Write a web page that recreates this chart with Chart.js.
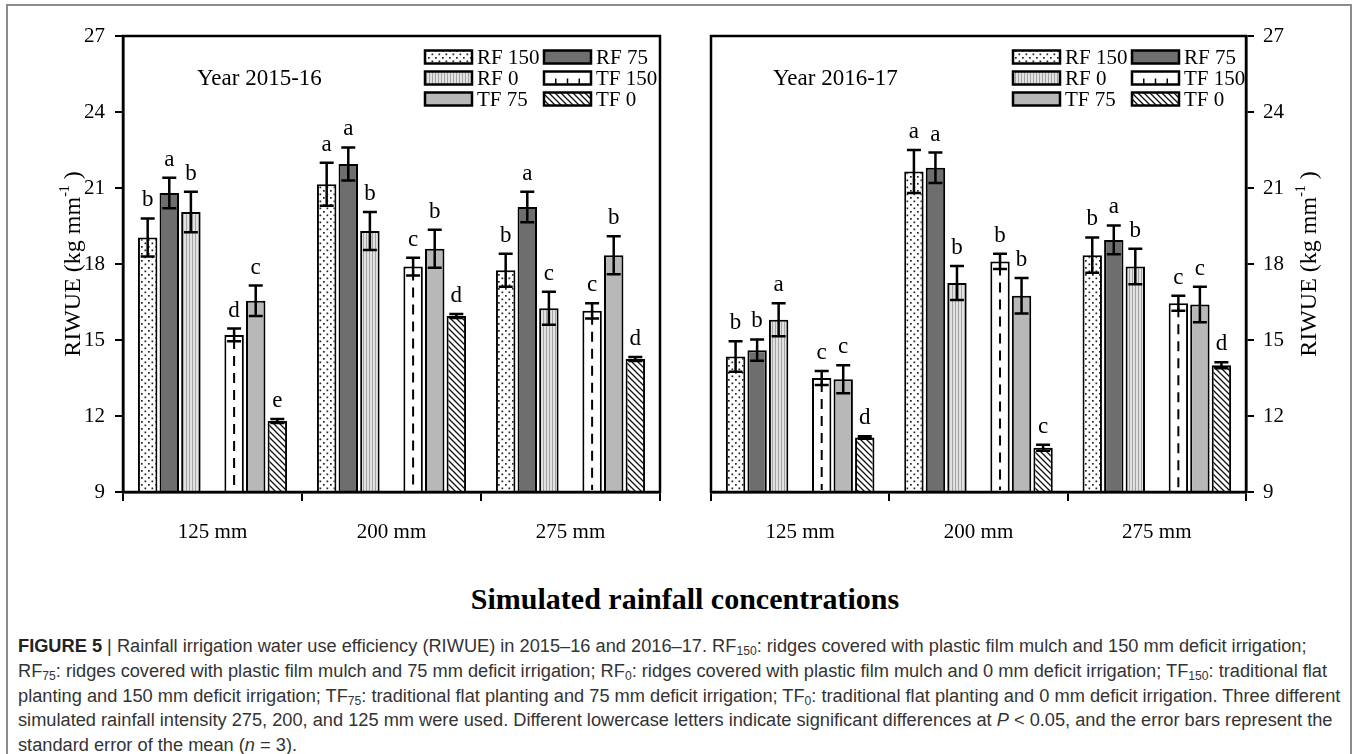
<!DOCTYPE html>
<html>
<head>
<meta charset="utf-8">
<script src="https://cdn.jsdelivr.net/npm/chart.js@4.4.1/dist/chart.umd.min.js"></script>
<style>
  html, body { margin: 0; padding: 0; background: #fff; }
  #fig { position: relative; width: 1357px; height: 754px; overflow: hidden; }
  #frame { position: absolute; left: 6px; top: 4px; width: 1342px; height: 770px;
           border-left: 2px solid #8c8c8c; border-top: 2px solid #8c8c8c; border-right: 2px solid #8c8c8c; }
  #c1 { position: absolute; left: 0; top: 0; }
  #c2 { position: absolute; left: 685px; top: 0; }
  #xtitle { position: absolute; left: 0; top: 582px; width: 1370px; text-align: center;
            font: bold 30px "Liberation Serif", "Times New Roman", serif; color: #000; }
  #caption { position: absolute; left: 18px; top: 634px; transform-origin: 0 0;
             font-family: "Liberation Sans Narrow", "Arial Narrow", "Liberation Sans", sans-serif;
             font-size: 18px; color: #333; white-space: nowrap; }
  #caption div { height: 24.8px; line-height: 24.8px; }
  #caption sub { font-size: 12px; vertical-align: -3px; line-height: 0; }
  #caption b { color: #222; }
</style>
</head>
<body>
<div id="fig">
  <div id="frame"></div>
  <canvas id="c1" width="685" height="560"></canvas>
  <canvas id="c2" width="672" height="560"></canvas>
  <div id="xtitle">Simulated rainfall concentrations</div>
  <div id="caption">
    <div><b>FIGURE 5</b> | Rainfall irrigation water use efficiency (RIWUE) in 2015–16 and 2016–17. RF<sub>150</sub>: ridges covered with plastic film mulch and 150 mm deficit irrigation;</div>
    <div>RF<sub>75</sub>: ridges covered with plastic film mulch and 75 mm deficit irrigation; RF<sub>0</sub>: ridges covered with plastic film mulch and 0 mm deficit irrigation; TF<sub>150</sub>: traditional flat</div>
    <div id="widest">planting and 150 mm deficit irrigation; TF<sub>75</sub>: traditional flat planting and 75 mm deficit irrigation; TF<sub>0</sub>: traditional flat planting and 0 mm deficit irrigation. Three different</div>
    <div>simulated rainfall intensity 275, 200, and 125 mm were used. Different lowercase letters indicate significant differences at <i>P</i> &lt; 0.05, and the error bars represent the</div>
    <div>standard error of the mean (<i>n</i> = 3).</div>
  </div>
</div>
<script>
// -------- Data --------
const groups = ['125 mm', '200 mm', '275 mm'];
const seriesNames = ['RF 150', 'RF 75', 'RF 0', 'TF 150', 'TF 75', 'TF 0'];
const yTicks = [9, 12, 15, 18, 21, 24, 27];

// Year 2015-16 (one value per group: 125, 200, 275 mm)
const rf150_a = [19.05, 21.15, 17.75];
const rf75_a  = [20.8, 21.95, 20.25];
const rf0_a   = [20.05, 19.3, 16.25];
const tf150_a = [15.2, 17.9, 16.15];
const tf75_a  = [16.55, 18.6, 18.35];
const tf0_a   = [11.8, 15.95, 14.25];

const rf150_a_se = [0.75, 0.85, 0.65];
const rf75_a_se  = [0.6, 0.65, 0.6];
const rf0_a_se   = [0.8, 0.75, 0.65];
const tf150_a_se = [0.25, 0.35, 0.3];
const tf75_a_se  = [0.6, 0.75, 0.75];
const tf0_a_se   = [0.08, 0.08, 0.08];

const rf150_a_let = ['b', 'a', 'b'];
const rf75_a_let  = ['a', 'a', 'a'];
const rf0_a_let   = ['b', 'b', 'c'];
const tf150_a_let = ['d', 'c', 'c'];
const tf75_a_let  = ['c', 'b', 'b'];
const tf0_a_let   = ['e', 'd', 'd'];

// Year 2016-17
const rf150_b = [14.35, 21.65, 18.35];
const rf75_b  = [14.6, 21.8, 18.95];
const rf0_b   = [15.8, 17.25, 17.9];
const tf150_b = [13.5, 18.1, 16.45];
const tf75_b  = [13.45, 16.75, 16.4];
const tf0_b   = [11.15, 10.75, 14.0];

const rf150_b_se = [0.6, 0.85, 0.7];
const rf75_b_se  = [0.42, 0.6, 0.57];
const rf0_b_se   = [0.65, 0.67, 0.7];
const tf150_b_se = [0.28, 0.3, 0.3];
const tf75_b_se  = [0.55, 0.7, 0.7];
const tf0_b_se   = [0.05, 0.12, 0.12];

const rf150_b_let = ['b', 'a', 'b'];
const rf75_b_let  = ['b', 'a', 'a'];
const rf0_b_let   = ['a', 'b', 'b'];
const tf150_b_let = ['c', 'b', 'c'];
const tf75_b_let  = ['c', 'b', 'c'];
const tf0_b_let   = ['d', 'c', 'd'];


// -------- Patterns --------
function makePattern(kind) {
    const c = document.createElement('canvas');
    const g = c.getContext('2d');
    if (kind === 'dots') {
        c.width = 7; c.height = 7;
        g.fillStyle = '#fff'; g.fillRect(0, 0, 7, 7);
        g.fillStyle = '#222';
        g.fillRect(1, 1, 1.7, 1.7);
        g.fillRect(4.5, 4.5, 1.7, 1.7);
    } else if (kind === 'vlines') {
        c.width = 3; c.height = 4;
        g.fillStyle = '#e2e2e2'; g.fillRect(0, 0, 3, 4);
        g.fillStyle = '#a4a4a4'; g.fillRect(0, 0, 1, 4);
    } else if (kind === 'diag') {
        c.width = 6; c.height = 6;
        g.fillStyle = '#fff'; g.fillRect(0, 0, 6, 6);
        g.strokeStyle = '#111'; g.lineWidth = 1.3;
        g.beginPath();
        g.moveTo(-1, -1); g.lineTo(7, 7);
        g.moveTo(-1, 5); g.lineTo(1, 7);
        g.moveTo(5, -1); g.lineTo(7, 1);
        g.stroke();
    }
    return g.createPattern(c, 'repeat');
}

const fills = [makePattern('dots'), '#6e6e6e', makePattern('vlines'), '#ffffff', '#b8b8b8', makePattern('diag')];


// -------- Datasets --------
function buildDatasets(vals, errs, lets) {
    const out = [];
    seriesNames.forEach((name, i) => {
        out.push({
            label: name,
            data: vals[i],
            se: errs[i],
            letters: lets[i],
            backgroundColor: fills[i],
            dashed: i === 3
        });
        // empty slot between the RF and TF bars
        if (i === 2) out.push({ label: '', data: [null, null, null], spacer: true, backgroundColor: 'rgba(0,0,0,0)' });
    });
    return out;
}


// -------- Drawing plugin --------
const serif = '"Liberation Serif", "Times New Roman", serif';

function drawSwatch(ctx, x, y, w, h, i) {
    ctx.fillStyle = fills[i];
    ctx.fillRect(x, y, w, h);
    if (i === 3) {
        ctx.strokeStyle = '#000';
        ctx.lineWidth = 1.5;
        ctx.beginPath();
        for (let k = 1; k <= 3; k++) {
            const xx = x + k * w / 4;
            ctx.moveTo(xx, y + h); ctx.lineTo(xx, y + h - 6);
        }
        ctx.stroke();
    }
    ctx.strokeStyle = '#000';
    ctx.lineWidth = 2.5;
    ctx.strokeRect(x, y, w, h);
}

const panelPlugin = {
    id: 'panel',
    afterDraw(chart, args, opts) {
        const ctx = chart.ctx;
        const area = chart.chartArea;
        const yScale = chart.scales.y;
        ctx.save();

        // box round the plot
        ctx.strokeStyle = '#000';
        ctx.lineWidth = 2.5;
        ctx.strokeRect(area.left, area.top, area.right - area.left, area.bottom - area.top);

        chart.data.datasets.forEach((ds, i) => {
            if (ds.spacer) return;
            const meta = chart.getDatasetMeta(i);
            meta.data.forEach((bar, j) => {
                const v = ds.data[j];
                // dashed centre line of TF 150
                if (ds.dashed) {
                    ctx.save();
                    ctx.strokeStyle = '#000';
                    ctx.lineWidth = 2;
                    ctx.setLineDash([10, 7]);
                    ctx.beginPath();
                    ctx.moveTo(bar.x, bar.y + 4);
                    ctx.lineTo(bar.x, Math.min(bar.base, area.bottom) - 2);
                    ctx.stroke();
                    ctx.restore();
                }
                // error bar
                const e = ds.se[j];
                const top = yScale.getPixelForValue(v + e);
                const bot = yScale.getPixelForValue(v - e);
                ctx.strokeStyle = '#000';
                ctx.lineWidth = 2.5;
                ctx.beginPath();
                ctx.moveTo(bar.x, top); ctx.lineTo(bar.x, bot);
                ctx.moveTo(bar.x - 7, top); ctx.lineTo(bar.x + 7, top);
                ctx.moveTo(bar.x - 7, bot); ctx.lineTo(bar.x + 7, bot);
                ctx.stroke();
                // letter
                ctx.fillStyle = '#000';
                ctx.font = '23px ' + serif;
                ctx.textAlign = 'center';
                ctx.textBaseline = 'alphabetic';
                ctx.fillText(ds.letters[j], bar.x, top - 12);
            });
        });

        // legend, 2 columns x 3 rows
        const lx = area.left + 302;
        const colGap = 119;
        const rowY = [57, 78, 99];
        ctx.font = '21px ' + serif;
        ctx.textAlign = 'left';
        ctx.textBaseline = 'middle';
        seriesNames.forEach((name, i) => {
            const col = i % 2, row = Math.floor(i / 2);
            const x = lx + col * colGap;
            const y = rowY[row];
            drawSwatch(ctx, x, y - 6.5, 47, 13, i);
            ctx.fillStyle = '#000';
            ctx.fillText(name, x + 52, y + 1);
        });

        // year label
        ctx.font = '23px ' + serif;
        ctx.fillText(opts.year, area.left + opts.yearDx, 79);

        // y axis title with superscript
        const tx = opts.side === 'left' ? area.left - 49 : area.right + 64;
        const ty = (area.top + area.bottom) / 2;
        ctx.translate(tx, ty);
        ctx.rotate(-Math.PI / 2);
        const main = 'RIWUE (kg mm';
        ctx.font = '24px ' + serif;
        const w1 = ctx.measureText(main).width;
        ctx.font = '14px ' + serif;
        const w2 = ctx.measureText('-1').width;
        ctx.font = '24px ' + serif;
        const w3 = ctx.measureText(' )').width;
        let x0 = -(w1 + w2 + w3) / 2;
        ctx.textBaseline = 'middle';
        ctx.fillText(main, x0, 0);
        ctx.font = '14px ' + serif;
        ctx.fillText('-1', x0 + w1, -9);
        ctx.font = '24px ' + serif;
        ctx.fillText(' )', x0 + w1 + w2, 0);

        ctx.restore();
    }
};


// -------- Chart --------
function makeChart(id, datasets, p) {
    const ctx = document.getElementById(id).getContext('2d');
    return new Chart(ctx, {
        type: 'bar',
        data: { labels: groups, datasets: datasets },
        options: {
            responsive: false,
            animation: false,
            devicePixelRatio: 1,
            layout: { padding: { top: 36, left: p.padL, right: p.padR, bottom: 0 } },
            datasets: {
                bar: {
                    categoryPercentage: 0.845,
                    barPercentage: 0.9,
                    borderColor: '#000',
                    borderWidth: 2,
                    borderSkipped: false
                }
            },
            plugins: {
                legend: { display: false },
                tooltip: { enabled: false },
                panel: { year: p.year, yearDx: p.yearDx, side: p.side }
            },
            scales: {
                x: {
                    grid: { offset: true, drawOnChartArea: false, color: '#000', lineWidth: 2, tickLength: 9 },
                    border: { display: true, color: '#000', width: 2.5 },
                    ticks: { color: '#000', font: { family: serif, size: 21 }, padding: 19 },
                    afterFit(s) { s.height = 68; }
                },
                y: {
                    position: p.side,
                    min: yTicks[0],
                    max: yTicks[yTicks.length - 1],
                    afterBuildTicks(s) { s.ticks = yTicks.map(v => ({ value: v })); },
                    grid: { drawOnChartArea: false, color: '#000', lineWidth: 2, tickLength: 8 },
                    border: { display: true, color: '#000', width: 2.5 },
                    ticks: { color: '#000', font: { family: serif, size: 21 }, padding: p.side === 'left' ? 10 : 9 },
                    afterFit(s) { s.width = p.yWidth; }
                }
            }
        },
        plugins: [panelPlugin]
    });
}

makeChart('c1',
    buildDatasets([rf150_a, rf75_a, rf0_a, tf150_a, tf75_a, tf0_a],
                  [rf150_a_se, rf75_a_se, rf0_a_se, tf150_a_se, tf75_a_se, tf0_a_se],
                  [rf150_a_let, rf75_a_let, rf0_a_let, tf150_a_let, tf75_a_let, tf0_a_let]),
    { side: 'left', padL: 0, padR: 25, yWidth: 123, year: 'Year 2015-16', yearDx: 74 });

makeChart('c2',
    buildDatasets([rf150_b, rf75_b, rf0_b, tf150_b, tf75_b, tf0_b],
                  [rf150_b_se, rf75_b_se, rf0_b_se, tf150_b_se, tf75_b_se, tf0_b_se],
                  [rf150_b_let, rf75_b_let, rf0_b_let, tf150_b_let, tf75_b_let, tf0_b_let]),
    { side: 'right', padL: 26, padR: 0, yWidth: 111, year: 'Year 2016-17', yearDx: 62 });


// -------- Caption width --------
const cap = document.getElementById('caption');
const widest = document.getElementById('widest');
const wNow = widest.scrollWidth;
if (wNow > 0) cap.style.transform = 'scaleX(' + (1322 / wNow) + ')';
</script>
</body>
</html>
